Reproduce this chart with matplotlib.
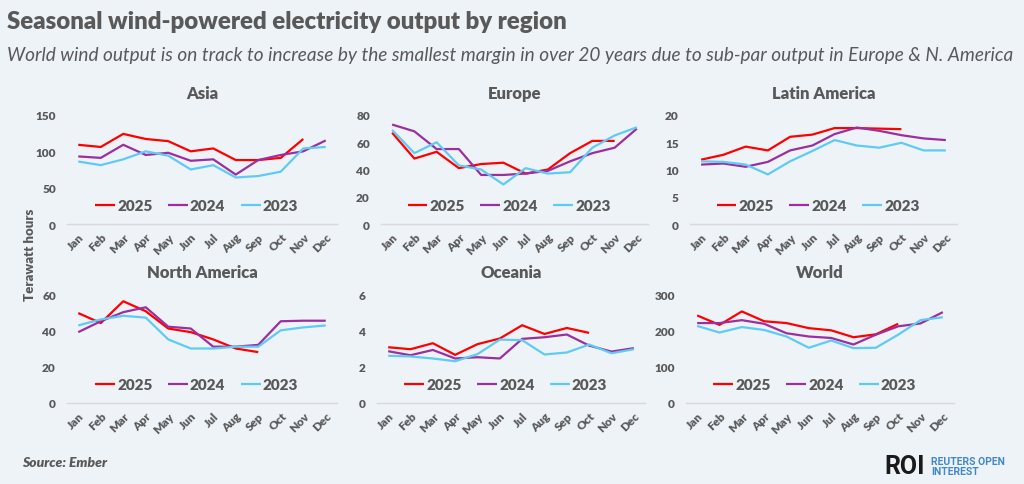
import matplotlib.pyplot as plt
import numpy as np

# Data (TWh)
months = ['Jan', 'Feb', 'Mar', 'Apr', 'May', 'Jun', 'Jul', 'Aug', 'Sep', 'Oct', 'Nov', 'Dec']
years = ['2025', '2024', '2023']

asia_2025 = [109, 106, 124, 117, 114, 100, 104, 88, 88, 91, 117]
asia_2024 = [93, 91, 109, 95, 98, 87, 89, 68, 88, 95, 100, 115]
asia_2023 = [86, 81, 89, 100, 94, 75, 81, 64, 66, 72, 104, 106]

europe_2025 = [67, 48, 53, 41, 44, 45, 37, 40, 52, 61, 61]
europe_2024 = [73, 68, 55, 55, 36, 36, 37, 39, 46, 52, 56, 70]
europe_2023 = [69, 52, 60, 43, 40, 29, 41, 37, 38, 56, 65, 71]

latam_2025 = [11.8, 12.7, 14.2, 13.5, 16.0, 16.4, 17.6, 17.6, 17.5, 17.4]
latam_2024 = [10.9, 11.1, 10.5, 11.4, 13.5, 14.4, 16.5, 17.7, 17.1, 16.3, 15.7, 15.4]
latam_2023 = [11.5, 11.4, 10.9, 9.1, 11.5, 13.4, 15.4, 14.4, 14.0, 14.9, 13.5, 13.5]

namer_2025 = [49.5, 44, 56, 50.5, 41, 39, 35, 30, 28]
namer_2024 = [39, 45, 50, 52.7, 42, 41, 31, 31, 32, 45, 45.3, 45.3]
namer_2023 = [42.7, 46, 48, 47, 35, 30, 30, 31, 31, 40, 41.6, 42.7]

oceania_2025 = [3.07, 2.96, 3.29, 2.65, 3.24, 3.55, 4.28, 3.80, 4.13, 3.86]
oceania_2024 = [2.85, 2.63, 2.92, 2.45, 2.52, 2.45, 3.53, 3.62, 3.77, 3.16, 2.83, 3.02]
oceania_2023 = [2.60, 2.56, 2.45, 2.30, 2.69, 3.49, 3.46, 2.67, 2.78, 3.22, 2.74, 2.96]

world_2025 = [241, 215, 252, 225, 220, 206, 200, 181, 189, 218]
world_2024 = [220, 220, 228, 218, 192, 183, 179, 161, 188, 211, 219, 250]
world_2023 = [212, 194, 209, 201, 183, 152, 172, 151, 152, 188, 228, 236]

regions = ['Asia', 'Europe', 'Latin America', 'North America', 'Oceania', 'World']
series = [
    [asia_2025, asia_2024, asia_2023],
    [europe_2025, europe_2024, europe_2023],
    [latam_2025, latam_2024, latam_2023],
    [namer_2025, namer_2024, namer_2023],
    [oceania_2025, oceania_2024, oceania_2023],
    [world_2025, world_2024, world_2023],
]
y_ticks = [
    [0, 50, 100, 150],
    [0, 20, 40, 60, 80],
    [0, 5, 10, 15, 20],
    [0, 20, 40, 60],
    [0, 2, 4, 6],
    [0, 100, 200, 300],
]

colors = ['#ff0000', '#9b2fa0', '#5ecbf5']
bg = '#eef3f8'
gray = '#595959'

W, H = 1024, 485
fig = plt.figure(figsize=(W / 100, H / 100), dpi=100, facecolor=bg)
plt.rcParams['font.family'] = ['Lato', 'DejaVu Sans']

# axes boxes in pixels: (left, right, top, bottom)
boxes = [
    (67, 337, 116, 225), (381, 648, 116, 225), (690, 957, 116, 225),
    (67, 337, 295, 404), (377, 645, 295, 404), (686, 954, 295, 404),
]

x = np.arange(len(months))
for i, (name, data, ticks, box) in enumerate(zip(regions, series, y_ticks, boxes)):
    l, r, t, b = box
    ax = fig.add_axes([l / W, 1 - b / H, (r - l) / W, (b - t) / H])
    ax.set_facecolor(bg)
    for vals, yr, c in zip(data, years, colors):
        ax.plot(x[:len(vals)], vals, color=c, lw=1.6, label=yr, solid_capstyle='butt')
    ax.set_xlim(-0.5, 11.5)
    ax.set_ylim(ticks[0], ticks[-1])
    ax.set_yticks(ticks)
    ax.set_xticks(x)
    ax.set_xticklabels(months, rotation=45, ha='right', rotation_mode='anchor')
    ax.tick_params(length=0, labelsize=8.5, labelcolor=gray)
    ax.tick_params(axis='y', pad=8)
    ax.tick_params(axis='x', pad=5)
    for lab in ax.get_xticklabels() + ax.get_yticklabels():
        lab.set_fontweight('heavy')
    for s in ax.spines.values():
        s.set_visible(False)
    ax.axhline(0, color='#d9d9d9', lw=1, clip_on=False)
    ax.set_title(name, fontsize=12, fontweight='heavy', color=gray, pad=12)
    leg = ax.legend(loc='center', bbox_to_anchor=(0.48, 0.17), ncol=3, frameon=False,
                    handlelength=1.3, handletextpad=0.15, columnspacing=1.0,
                    prop={'size': 11, 'weight': 'heavy'})
    for txt in leg.get_texts():
        txt.set_color(gray)

fig.text(30 / W, 1 - 255 / H, 'Terawatt hours', rotation=90, ha='center', va='center',
         fontsize=9.5, fontweight='heavy', color=gray)

fig.text(7 / W, 1 - 22 / H, 'Seasonal wind-powered electricity output by region',
         fontsize=17.3, fontweight='heavy', color=gray, va='center')
fig.text(7 / W, 1 - 55 / H,
         'World wind output is on track to increase by the smallest margin in over 20 years '
         'due to sub-par output in Europe & N. America',
         fontsize=13.7, style='italic', color=gray, va='center')

fig.text(22 / W, 1 - 463 / H, 'Source: Ember', fontsize=10, style='italic',
         fontweight='heavy', color=gray, va='center')
fig.text(884 / W, 1 - 467 / H, 'ROI', fontsize=18, fontweight='bold', color='#1a1a1a',
         va='center', family=['Roboto', 'DejaVu Sans'])
fig.text(931 / W, 1 - 462 / H, 'REUTERS OPEN', fontsize=7.5, fontweight='bold',
         color='#3f88cc', va='center', family=['Roboto', 'DejaVu Sans'])
fig.text(931 / W, 1 - 472 / H, 'INTEREST', fontsize=7.5, fontweight='bold',
         color='#3f88cc', va='center', family=['Roboto', 'DejaVu Sans'])

fig.savefig('out.png', dpi=100, facecolor=bg)
